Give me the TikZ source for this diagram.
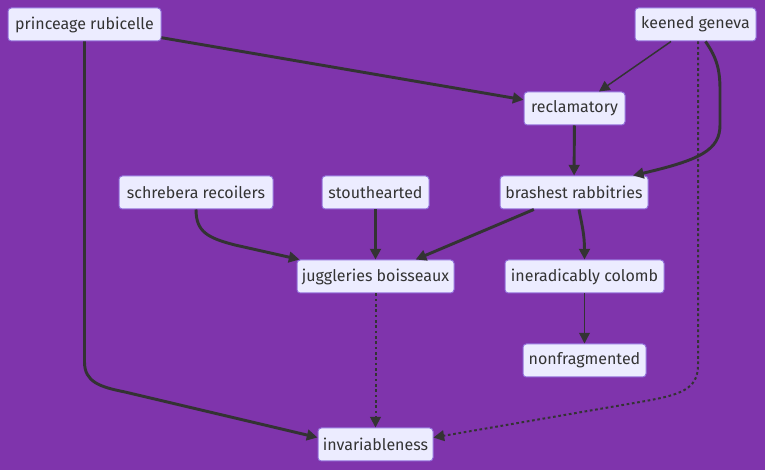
\documentclass[tikz,border=0pt]{standalone}
\usepackage{fontspec}
\setmainfont{Fira Sans}
\usetikzlibrary{arrows.meta,calc}
\definecolor{bg}{RGB}{127,52,172}
\definecolor{nodefill}{RGB}{236,236,255}
\definecolor{nodeborder}{RGB}{147,112,219}
\definecolor{edge}{RGB}{51,51,51}
\tikzset{
  box/.style={draw=nodeborder, fill=nodefill, line width=0.75pt, rounded corners=2.5pt,
    minimum height=24.75pt, inner sep=0pt, text=edge, font=\fontsize{12pt}{14pt}\selectfont},
  thickedge/.style={draw=edge, line width=2.2pt, -{Triangle[length=8pt,width=8pt]}},
  thinedge/.style={draw=edge, line width=1.1pt, -{Triangle[length=8pt,width=8pt]}},
  dotedge/.style={draw=edge, line width=1.5pt, dash pattern=on 2pt off 2pt, -{Triangle[length=8pt,width=8pt]}},
}
\begin{document}
\begin{tikzpicture}[x=0.75pt,y=-0.75pt]
\useasboundingbox (0,0) rectangle (765,470);
\fill[bg] (0,0) rectangle (765,470);
\node[box, minimum width=114.75pt] (p) at (84.5,24.5) {princeage rubicelle};
\node[box, minimum width=90.75pt] (k) at (695.5,24.5) {keened geneva};
\node[box, minimum width=75.75pt] (r) at (574.5,108.5) {reclamatory};
\node[box, minimum width=115.5pt] (s) at (196,192.5) {schrebera recoilers};
\node[box, minimum width=80.25pt] (st) at (375.5,192.5) {stouthearted};
\node[box, minimum width=111pt] (b) at (574,192.5) {brashest rabbitries};
\node[box, minimum width=117.75pt] (j) at (375.5,276.5) {juggleries boisseaux};
\node[box, minimum width=119.25pt] (i) at (584.5,276.5) {ineradicably colomb};
\node[box, minimum width=92.25pt] (n) at (584.5,360.5) {nonfragmented};
\node[box, minimum width=86.25pt] (v) at (375.5,444.5) {invariableness};

\draw[thickedge] (p) -- (r);
\draw[thickedge] (p.south) -- (84.5,362) .. controls (84.5,382) and (100,387) .. (125,392) -- ($(v.west)+(0,-7)$);
\draw[thinedge] (k) -- (r);
\draw[thickedge] ($(k.south)+(10,0)$) .. controls (717,58) and (720,70) .. (720,90) -- (720,125) .. controls (720,150) and (700,160) .. ($(b.north)+(59,0)$);
\draw[dotedge] ($(k.south)+(2.5,0)$) -- (698,365) .. controls (698,390) and (680,395) .. (640,402) -- ($(v.east)+(0,-7)$);
\draw[thickedge] (r) -- (b);
\draw[thickedge] (s.south) .. controls (196,232) and (208,238) .. (235,245) -- ($(j.north west)+(3,0)$);
\draw[thickedge] (st) -- (j);
\draw[thickedge] (b) -- (j);
\draw[thickedge] ($(b.south)+(5,0)$) .. controls (582,225) and (584.5,235) .. (i.north);
\draw[thinedge] (i) -- (n);
\draw[dotedge] (j) -- (v);
\end{tikzpicture}
\end{document}
